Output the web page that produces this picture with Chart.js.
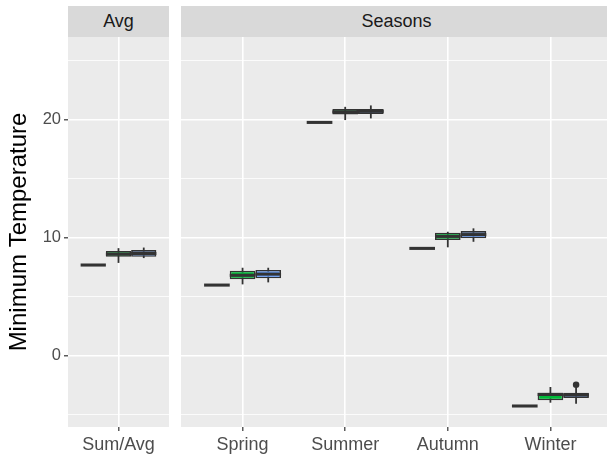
<!DOCTYPE html>
<html>
<head>
<meta charset="utf-8">
<script src="https://cdn.jsdelivr.net/npm/chart.js@4.4.1/dist/chart.umd.min.js"></script>
<style>
    html, body { margin: 0; padding: 0; background: #fff; overflow: hidden; }
    #wrap { position: relative; width: 607px; height: 458px; overflow: hidden; }
    canvas { position: absolute; top: 0; }
    .strip {
        position: absolute; top: 6px; height: 31px; background: #D9D9D9; color: #1A1A1A;
        font: 18px "Liberation Sans", Arial, sans-serif;
        display: flex; align-items: center; justify-content: center;
    }
</style>
</head>
<body>
<div id="wrap">
    <div class="strip" id="strip-avg" style="left:68px;width:101px"></div>
    <div class="strip" id="strip-seasons" style="left:181px;width:431px"></div>
    <canvas id="avg-chart" width="169" height="458" style="left:0"></canvas>
    <canvas id="seasons-chart" width="431" height="458" style="left:181px"></canvas>
</div>
<script>
// Panel titles and categories
const panelNames = ['Avg', 'Seasons'];
const avgCategories = ['Sum/Avg'];
const seasonCategories = ['Spring', 'Summer', 'Autumn', 'Winter'];

// y axis breaks
const yMajorTicks = [0, 10, 20];
const yMinorTicks = [-5, 5, 15, 25];

// group 1 has a single value per category (flat box)
const avgFlat = [7.67];
const seasonFlat = [5.97, 19.76, 9.08, -4.28];

// groups 2 and 3: [lower whisker, q1, median, q3, upper whisker]
const avgGreen = [[7.85, 8.37, 8.6, 8.86, 9.1]];
const avgBlue = [[8.26, 8.37, 8.65, 8.94, 9.15]];
const seasonGreen = [
    [6.03, 6.46, 6.8, 7.19, 7.44],
    [19.96, 20.44, 20.65, 20.89, 21.08],
    [9.17, 9.79, 10.1, 10.41, 10.49],
    [-4.0, -3.8, -3.3, -3.15, -2.67]
];
const seasonBlue = [
    [6.2, 6.54, 6.9, 7.25, 7.44],
    [20.1, 20.47, 20.7, 20.9, 21.2],
    [9.64, 9.93, 10.25, 10.55, 10.78],
    [-4.08, -3.6, -3.35, -3.15, -2.67]
];
// outliers of group 3, one list per category
const avgBlueOutliers = [[]];
const seasonBlueOutliers = [[], [], [], [-2.47]];

const groupColors = ['#F8766D', '#00BA38', '#619CFF'];
const outline = '#333333';

Chart.defaults.font.family = '"Liberation Sans", Arial, sans-serif';

document.getElementById('strip-avg').textContent = panelNames[0];
document.getElementById('strip-seasons').textContent = panelNames[1];

// Grey panel background behind the plot area
const panelBg = {
    id: 'panelBg',
    beforeDraw(chart) {
        const { ctx, chartArea } = chart;
        ctx.save();
        ctx.fillStyle = '#EBEBEB';
        ctx.fillRect(chartArea.left, chartArea.top, chartArea.right - chartArea.left, chartArea.bottom - chartArea.top);
        ctx.restore();
    }
};

function buildDatasets(flat, green, blue, blueOutliers) {
    const groups = [
        { stack: 'a', color: groupColors[0], stats: flat.map(v => [v, v, v, v, v]) },
        { stack: 'b', color: groupColors[1], stats: green },
        { stack: 'c', color: groupColors[2], stats: blue }
    ];
    const common = { categoryPercentage: 0.75, barPercentage: 1, grouped: true };
    const datasets = [];

    // whiskers, drawn first (under the boxes)
    groups.forEach(g => {
        datasets.push(Object.assign({}, common, {
            stack: g.stack, order: 3,
            data: g.stats.map((s, i) => ({ x: i, y: s[0] === s[4] ? null : [s[0], s[4]] })),
            backgroundColor: outline, borderWidth: 0, maxBarThickness: 1.8
        }));
    });
    // boxes q1..q3
    groups.forEach(g => {
        datasets.push(Object.assign({}, common, {
            stack: g.stack, order: 2,
            data: g.stats.map((s, i) => ({ x: i, y: s[1] === s[3] ? null : [s[1], s[3]] })),
            backgroundColor: g.color, borderColor: outline, borderWidth: 1.6, borderSkipped: false
        }));
    });
    // medians as thick lines
    groups.forEach(g => {
        datasets.push(Object.assign({}, common, {
            stack: g.stack, order: 1,
            data: g.stats.map((s, i) => ({ x: i, y: [s[2] - 0.13, s[2] + 0.13] })),
            backgroundColor: outline, borderWidth: 0
        }));
    });

    const outlierPoints = [];
    blueOutliers.forEach((list, i) => list.forEach(o => outlierPoints.push({ x: i, y: [o - 0.27, o + 0.27] })));
    datasets.push(Object.assign({}, common, {
        stack: 'c', order: 1,
        data: outlierPoints,
        backgroundColor: outline, borderWidth: 0, maxBarThickness: 6.5,
        borderRadius: 4, borderSkipped: false
    }));
    return datasets;
}

function isMajor(v) {
    return yMajorTicks.includes(v);
}

function makeChart(canvasId, labels, datasets, showYAxis, expand) {
    const ctx = document.getElementById(canvasId).getContext('2d');
    return new Chart(ctx, {
        type: 'bar',
        data: { datasets: datasets },
        options: {
            responsive: false,
            animation: false,
            layout: { padding: { top: 37, left: 0, right: 0, bottom: 0 } },
            plugins: { legend: { display: false }, tooltip: { enabled: false } },
            scales: {
                x: {
                    type: 'linear',
                    offset: false,
                    min: -expand,
                    max: labels.length - 1 + expand,
                    afterBuildTicks: s => { s.ticks = labels.map((_, i) => ({ value: i })); },
                    afterFit: s => { s.height = 31; },
                    ticks: {
                        callback: v => labels[v],
                        autoSkip: false,
                        maxRotation: 0,
                        color: '#4D4D4D',
                        font: { size: 18 },
                        padding: 3
                    },
                    grid: { offset: false, color: '#FFFFFF', lineWidth: 1.6, tickColor: outline, tickLength: 4, tickWidth: 1.2 },
                    border: { display: false }
                },
                y: {
                    type: 'linear',
                    stacked: false,
                    min: -6.06,
                    max: 27.0,
                    afterBuildTicks: s => {
                        s.ticks = yMajorTicks.concat(yMinorTicks).sort((a, b) => a - b).map(v => ({ value: v }));
                    },
                    afterFit: s => { s.width = showYAxis ? 68 : 0; },
                    ticks: {
                        display: showYAxis,
                        callback: v => isMajor(v) ? String(v) : '',
                        color: '#4D4D4D',
                        font: { size: 16.5 },
                        padding: 3
                    },
                    grid: {
                        color: '#FFFFFF',
                        lineWidth: c => isMajor(c.tick.value) ? 1.6 : 0.8,
                        drawTicks: showYAxis,
                        tickColor: c => isMajor(c.tick.value) ? outline : 'rgba(0,0,0,0)',
                        tickLength: 4,
                        tickWidth: 1.2
                    },
                    border: { display: false },
                    title: {
                        display: showYAxis,
                        text: 'Minimum Temperature',
                        color: '#000000',
                        font: { size: 24 },
                        padding: { top: 5, bottom: 0 }
                    }
                }
            }
        },
        plugins: [panelBg]
    });
}

makeChart('avg-chart', avgCategories, buildDatasets(avgFlat, avgGreen, avgBlue, avgBlueOutliers), true, 0.5);
makeChart('seasons-chart', seasonCategories, buildDatasets(seasonFlat, seasonGreen, seasonBlue, seasonBlueOutliers), false, 0.6);
</script>
</body>
</html>
